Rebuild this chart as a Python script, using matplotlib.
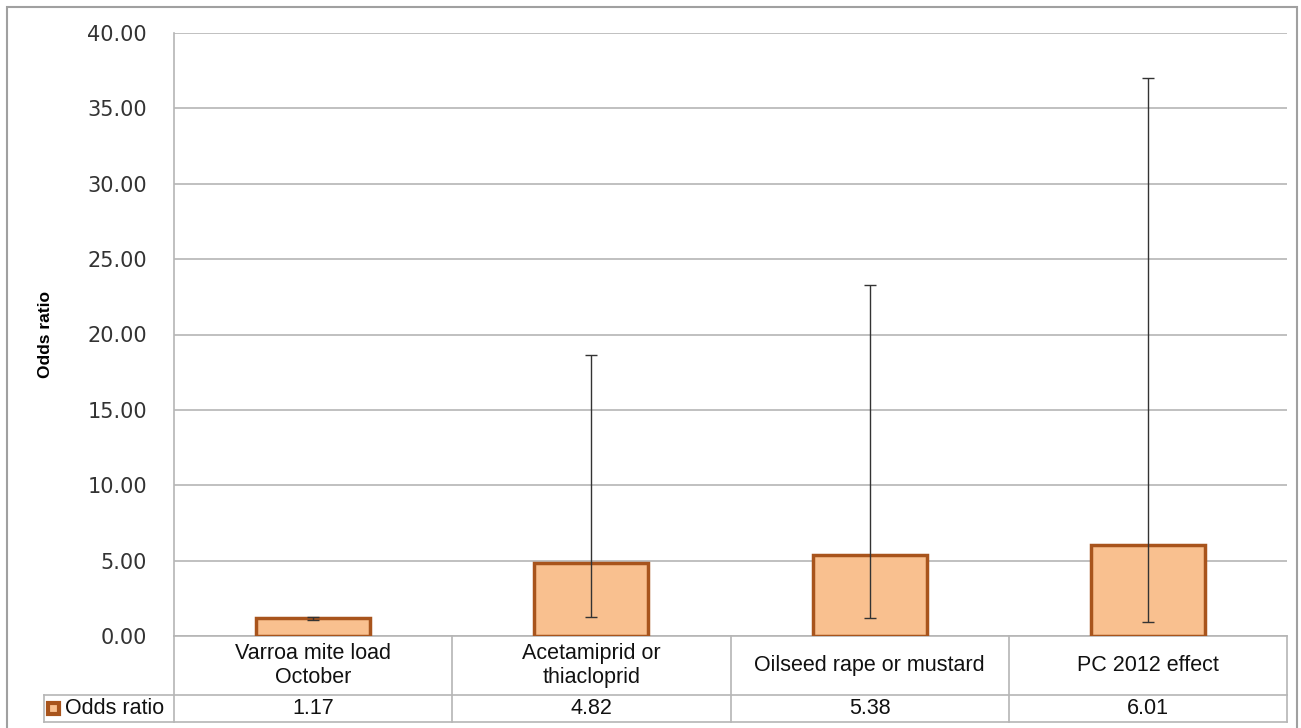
import matplotlib.pyplot as plt
import matplotlib.patches as mpatches
import numpy as np

# data
categories = ["Varroa mite load\nOctober", "Acetamiprid or\nthiacloprid",
              "Oilseed rape or mustard", "PC 2012 effect"]
odds_ratio = [1.17, 4.82, 5.38, 6.01]
ci_lower = [1.08, 1.26, 1.20, 0.93]
ci_upper = [1.27, 18.62, 23.30, 37.00]
y_ticks = [0, 5, 10, 15, 20, 25, 30, 35, 40]
series_name = "Odds ratio"

W, H = 1301, 728
fig = plt.figure(figsize=(W / 100, H / 100), dpi=100)

# outer frame of the chart
fig.patches.append(mpatches.Rectangle((7 / W, -0.05), (1297 - 7) / W, (728 - 7) / H + 0.05,
                                      transform=fig.transFigure, fill=False,
                                      edgecolor="#a0a0a0", linewidth=1.5))

left, right, top, bottom = 174, 1287, 33, 636
ax = fig.add_axes([left / W, (H - bottom) / H, (right - left) / W, (bottom - top) / H])

x = np.arange(len(categories))
face = "#f9c08f"
edge = "#a8541c"
ax.bar(x, odds_ratio, width=0.41, color=face, edgecolor=edge, linewidth=2.5, zorder=3)
yerr = [np.array(odds_ratio) - np.array(ci_lower), np.array(ci_upper) - np.array(odds_ratio)]
ax.errorbar(x, odds_ratio, yerr=yerr, fmt="none", ecolor="#333333", elinewidth=1,
            capsize=4, capthick=1, zorder=4)

ax.set_xlim(-0.5, len(categories) - 0.5)
ax.set_ylim(0, 40)
ax.set_yticks(y_ticks)
ax.set_yticklabels([f"{v:.2f}" for v in y_ticks], fontsize=15, color="#333333",
                   family="DejaVu Sans")
ax.tick_params(axis="y", length=0, pad=19.5)
ax.set_xticks([])
ax.grid(axis="y", color="#b5b5b5", linewidth=1.2, zorder=0)
for s in ["top", "right", "bottom"]:
    ax.spines[s].set_visible(False)
ax.spines["left"].set_color("#b5b5b5")
ax.spines["left"].set_linewidth(1.2)
ax.set_ylabel("Odds ratio", fontsize=12.5, fontweight="bold", family="Liberation Sans")
ax.yaxis.set_label_coords(-(left - 53) / (right - left), 0.5)

# data table under the axis
ph = bottom - top
r1 = -(695 - bottom) / ph
r2 = -(722 - bottom) / ph
leg_x = -(left - 44) / (right - left)
tr = ax.get_xaxis_transform()
tra = ax.transAxes
lc = "#b5b5b5"
lw = 1.2
fs = 15.5
ax.plot([-0.5, len(categories) - 0.5], [0, 0], color=lc, lw=lw, transform=tr, clip_on=False, zorder=2)
ax.plot([leg_x, 1], [r1, r1], color=lc, lw=lw, transform=tra, clip_on=False)
ax.plot([leg_x, 1], [r2, r2], color=lc, lw=lw, transform=tra, clip_on=False)
ax.plot([leg_x, leg_x], [r1, r2], color=lc, lw=lw, transform=tra, clip_on=False)
ax.plot([0, 0], [0, r2], color=lc, lw=lw, transform=tra, clip_on=False)
for b in np.arange(len(categories)) + 0.5:
    ax.plot([b, b], [0, r2], color=lc, lw=lw, transform=tr, clip_on=False)

for xi, cat, v in zip(x, categories, odds_ratio):
    ax.text(xi, r1 / 2, cat, transform=tr, ha="center", va="center", fontsize=fs,
            family="Liberation Sans", color="#111111", linespacing=1.2)
    ax.text(xi, (r1 + r2) / 2, f"{v:.2f}", transform=tr, ha="center", va="center",
            fontsize=fs, family="Liberation Sans", color="#111111")

# legend key in the table
kw, kh = 11 / (right - left), 11 / ph
ax.add_patch(mpatches.Rectangle((leg_x + 4 / (right - left), (r1 + r2) / 2 - kh / 2), kw, kh,
                                transform=tra, facecolor=face, edgecolor=edge,
                                linewidth=3, clip_on=False))
ax.text(leg_x + 21 / (right - left), (r1 + r2) / 2, series_name, transform=tra, ha="left",
        va="center", fontsize=fs, family="Liberation Sans", color="#111111")

fig.savefig("out.png", dpi=100)
